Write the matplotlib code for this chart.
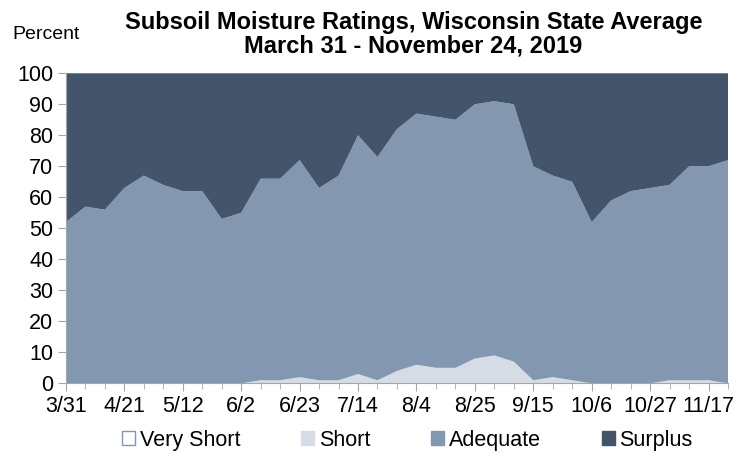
import numpy as np
import matplotlib.pyplot as plt
from matplotlib.patches import Patch

plt.rcParams['font.family'] = ['Liberation Sans', 'DejaVu Sans']

weeks = ['3/31', '4/7', '4/14', '4/21', '4/28', '5/5', '5/12', '5/19', '5/26',
         '6/2', '6/9', '6/16', '6/23', '6/30', '7/7', '7/14', '7/21', '7/28',
         '8/4', '8/11', '8/18', '8/25', '9/1', '9/8', '9/15', '9/22', '9/29',
         '10/6', '10/13', '10/20', '10/27', '11/3', '11/10', '11/17', '11/24']

very_short = [0] * 35
short = [0, 0, 0, 0, 0, 0, 0, 0, 0, 0, 1, 1, 2, 1, 1, 3, 1, 4,
         6, 5, 5, 8, 9, 7, 1, 2, 1, 0, 0, 0, 0, 1, 1, 1, 0]
adequate = [52, 57, 56, 63, 67, 64, 62, 62, 53, 55, 65, 65, 70, 62, 66, 77, 72, 78,
            81, 81, 80, 82, 82, 83, 69, 65, 64, 52, 59, 62, 63, 63, 69, 69, 72]
surplus = [48, 43, 44, 37, 33, 36, 38, 38, 47, 45, 34, 34, 28, 37, 33, 20, 27, 18,
           13, 14, 15, 10, 9, 10, 30, 33, 35, 48, 41, 38, 37, 36, 30, 30, 28]

labels = ['Very Short', 'Short', 'Adequate', 'Surplus']
colors = ['#ffffff', '#d6dce5', '#8497b0', '#44546a']

x = np.arange(len(weeks))

fig = plt.figure(figsize=(7.49, 4.58), dpi=100)
ax = fig.add_axes([0.088, 0.163, 0.884, 0.677])

ax.stackplot(x, very_short, short, adequate, surplus, colors=colors, linewidth=0)

ax.set_xlim(0, len(weeks) - 1)
ax.set_ylim(0, 100)
ax.set_yticks(range(0, 101, 10))
ax.set_xticks(x[::3])
ax.set_xticklabels(weeks[::3])
ax.set_xticks(x, minor=True)

for s in ['top', 'right']:
    ax.spines[s].set_visible(False)
for s in ['left', 'bottom']:
    ax.spines[s].set_color('#a6a6a6')
ax.tick_params(axis='both', which='both', colors='#a6a6a6', labelcolor='black',
               labelsize=15.5)
ax.tick_params(axis='y', length=6, pad=3)
ax.tick_params(axis='x', which='major', length=6, pad=3)
ax.tick_params(axis='x', which='minor', length=4)

fig.text(0.552, 0.950, 'Subsoil Moisture Ratings, Wisconsin State Average',
         ha='center', va='center', fontsize=17, fontweight='bold')
fig.text(0.552, 0.900, 'March 31 - November 24, 2019',
         ha='center', va='center', fontsize=17, fontweight='bold')
fig.text(0.016, 0.925, 'Percent', ha='left', va='center', fontsize=14)

handles = [Patch(facecolor=c, edgecolor='#8497b0' if i == 0 else c, linewidth=1)
           for i, c in enumerate(colors)]
fig.legend(handles, labels, loc='center', bbox_to_anchor=(0.544, 0.039), ncol=4,
           frameon=False, fontsize=15.5, handlelength=0.6, handleheight=0.6,
           handletextpad=0.2, columnspacing=2.85)

fig.savefig('out.png', dpi=100)
